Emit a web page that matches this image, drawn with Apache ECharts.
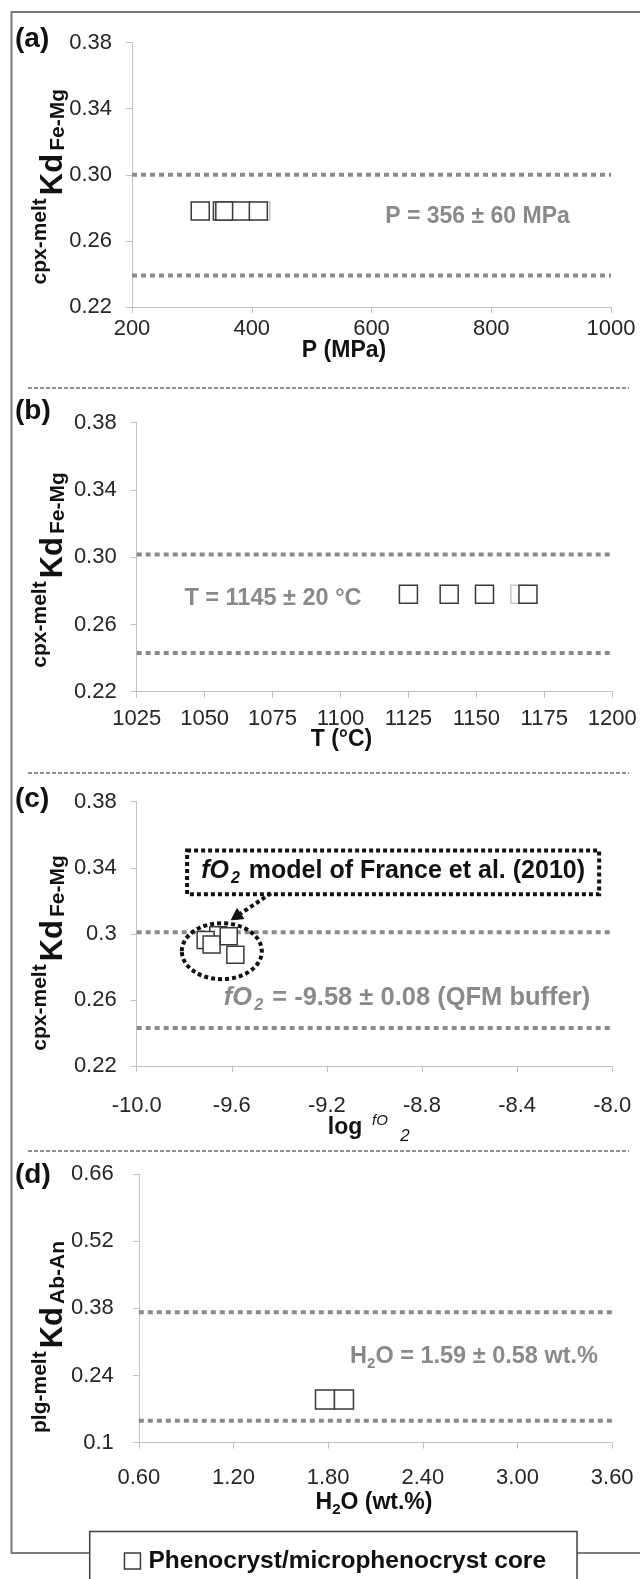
<!DOCTYPE html>
<html>
<head>
<meta charset="utf-8">
<title>Kd equilibrium tests</title>
<script src="https://cdn.jsdelivr.net/npm/echarts@6.0.0/dist/echarts.min.js"></script>
<style>
  html, body { margin: 0; padding: 0; background: #fff; }
  #chart { width: 640px; height: 1579px; }
</style>
</head>
<body>
<div id="chart"></div>
<script>
// ---------------- data ----------------
// (a) cpx-melt Kd(Fe-Mg) against pressure (MPa)
const pressureTicks = ['200', '400', '600', '800', '1000'];
const pressureCores = [314, 351, 355, 383, 411];
const pressureCoresKd = [0.278, 0.278, 0.278, 0.278, 0.278];
const pressureFaint = [415];
const pressureFaintKd = [0.278];
const pressureKdRange = [0.300, 0.239];

// (b) cpx-melt Kd(Fe-Mg) against temperature (°C)
const tempTicks = ['1025', '1050', '1075', '1100', '1125', '1150', '1175', '1200'];
const tempCores = [1125, 1140, 1153, 1169];
const tempCoresKd = [0.278, 0.278, 0.278, 0.278];
const tempFaint = [1166];
const tempFaintKd = [0.278];
const tempKdRange = [0.3016, 0.243];

// (c) cpx-melt Kd(Fe-Mg) against log fO2
const fo2Ticks = ['-10.0', '-9.6', '-9.2', '-8.8', '-8.4', '-8.0'];
const fo2Cores = [-9.657, -9.710, -9.685, -9.613, -9.585];
const fo2CoresKd = [0.2991, 0.2963, 0.2935, 0.2986, 0.2874];
const fo2KdRange = [0.301, 0.243];

// (d) plg-melt Kd(Ab-An) against H2O (wt.%)
const waterTicks = ['0.60', '1.20', '1.80', '2.40', '3.00', '3.60'];
const waterCores = [1.78, 1.90];
const waterCoresKd = [0.190, 0.190];
const waterKdRange = [0.372, 0.146];

// y tick labels
const cpxKdTicks = ['0.22', '0.26', '0.30', '0.34', '0.38'];
const cpxKdTicksC = ['0.22', '0.26', '0.3', '0.34', '0.38'];
const plgKdTicks = ['0.1', '0.24', '0.38', '0.52', '0.66'];

const CORE = 'Phenocryst/microphenocryst core';

// ---------------- styling ----------------
const FONT = '"Liberation Sans", Arial, Helvetica, sans-serif';
const AXIS_GREY = '#c2c2c2';
const BAND_GREY = '#8a8a8a';
const NOTE_GREY = '#8a8a8a';
const INK = '#111111';

// plot rectangles and label gaps of the four stacked panels
const layout = [
  { left: 132,   top: 42.5,  width: 479,   height: 264.5, xGap: 11, yGap: 20 },
  { left: 136.7, top: 422.7, width: 475.5, height: 269,   xGap: 16, yGap: 20 },
  { left: 136.7, top: 801.7, width: 475.5, height: 264.3, xGap: 29, yGap: 20 },
  { left: 138.8, top: 1174,  width: 473.4, height: 268.7, xGap: 24, yGap: 25 }
];

function labelFor(ticks, v) {
  let best = ticks[0], d = Infinity;
  ticks.forEach(t => { const e = Math.abs(parseFloat(t) - v); if (e < d) { d = e; best = t; } });
  return best;
}

function valueAxis(i, ticks, margin) {
  const vals = ticks.map(Number);
  return {
    type: 'value', gridIndex: i,
    min: Math.min(...vals), max: Math.max(...vals),
    axisLine: { show: true, onZero: false, lineStyle: { color: AXIS_GREY, width: 1 } },
    axisTick: { show: true, length: 6, inside: false, lineStyle: { color: AXIS_GREY, width: 1 }, customValues: vals },
    axisLabel: {
      customValues: vals, margin: margin,
      formatter: v => labelFor(ticks, v),
      color: '#262626', fontSize: 22, fontFamily: FONT
    },
    splitLine: { show: false }
  };
}

function zip(xs, ys) { return xs.map((x, k) => [x, ys[k]]); }

function coreSeries(i, xs, ys, size) {
  return {
    type: 'scatter', name: CORE, xAxisIndex: i, yAxisIndex: i,
    data: zip(xs, ys), symbol: 'rect', symbolSize: size,
    itemStyle: { color: '#ffffff', borderColor: '#3a3a3a', borderWidth: 1.5, opacity: 1 },
    z: 6, silent: true, animation: false
  };
}

function faintSeries(i, xs, ys, size) {
  return {
    type: 'scatter', name: 'faint core', xAxisIndex: i, yAxisIndex: i,
    data: zip(xs, ys), symbol: 'rect', symbolSize: size,
    itemStyle: { color: '#ffffff', borderColor: '#c6c6c6', borderWidth: 1.5, opacity: 1 },
    z: 5, silent: true, animation: false
  };
}

function bandSeries(i, y, ticks) {
  const vals = ticks.map(Number);
  return {
    type: 'line', name: 'range', xAxisIndex: i, yAxisIndex: i,
    data: [[Math.min(...vals), y], [Math.max(...vals), y]],
    symbol: 'none', silent: true, animation: false,
    lineStyle: { color: BAND_GREY, width: 4, type: [5, 4], cap: 'butt' },
    z: 3
  };
}

const xTickSets = [pressureTicks, tempTicks, fo2Ticks, waterTicks];
const yTickSets = [cpxKdTicks, cpxKdTicks, cpxKdTicksC, plgKdTicks];

const series = [
  bandSeries(0, pressureKdRange[0], pressureTicks),
  bandSeries(0, pressureKdRange[1], pressureTicks),
  faintSeries(0, pressureFaint, pressureFaintKd, 18),
  coreSeries(0, pressureCores, pressureCoresKd, 18),

  bandSeries(1, tempKdRange[0], tempTicks),
  bandSeries(1, tempKdRange[1], tempTicks),
  faintSeries(1, tempFaint, tempFaintKd, 18),
  coreSeries(1, tempCores, tempCoresKd, 18),

  bandSeries(2, fo2KdRange[0], fo2Ticks),
  bandSeries(2, fo2KdRange[1], fo2Ticks),
  coreSeries(2, fo2Cores, fo2CoresKd, 17),

  bandSeries(3, waterKdRange[0], waterTicks),
  bandSeries(3, waterKdRange[1], waterTicks),
  coreSeries(3, waterCores, waterCoresKd, 19)
];

const chart = echarts.init(document.getElementById('chart'), null, { renderer: 'canvas' });

chart.setOption({
  animation: false,
  backgroundColor: '#ffffff',
  grid: layout.map(g => ({ left: g.left, top: g.top, width: g.width, height: g.height, containLabel: false, outerBoundsMode: 'none' })),
  xAxis: xTickSets.map((t, i) => valueAxis(i, t, layout[i].xGap)),
  yAxis: yTickSets.map((t, i) => valueAxis(i, t, layout[i].yGap)),
  legend: {
    data: [{ name: CORE, icon: 'rect', itemStyle: { color: '#ffffff', borderColor: '#3a3a3a', borderWidth: 1.5 } }],
    left: 89.7, top: 1531.5, orient: 'horizontal',
    itemWidth: 16, itemHeight: 16,
    padding: [17, 31, 40, 34],
    borderColor: '#3f3f3f', borderWidth: 1.5, backgroundColor: '#ffffff',
    textStyle: { fontSize: 24.5, fontWeight: 'bold', fontFamily: FONT, color: INK, padding: [0, 0, 0, 3] },
    selectedMode: false, z: 20
  },
  series: series
});

// ---------------- text and annotation helpers ----------------
const tok = (font, fill, padBottom, padSide) => ({
  font: font, fill: fill, verticalAlign: 'bottom',
  padding: [0, padSide || 0, padBottom || 0, padSide || 0]
});

function plainText(x, y, text, font, fill, align) {
  return {
    type: 'text', x: x, y: y, z: 30, silent: true,
    style: { text: text, font: font, fill: fill, align: align || 'center', verticalAlign: 'middle',
             textAlign: align || 'center', textVerticalAlign: 'middle' }
  };
}

function richText(x, y, text, rich) {
  return {
    type: 'text', x: x, y: y, z: 30, silent: true,
    style: { text: text, rich: rich, align: 'center', verticalAlign: 'middle',
             textAlign: 'center', textVerticalAlign: 'middle' }
  };
}

// rotated y-axis title: superscript phase pair, Kd, subscript component pair
function yTitle(i, sup, sub, startOffset) {
  const p = layout[i];
  return {
    type: 'text', x: 69, y: p.top + startOffset, rotation: Math.PI / 2, z: 30, silent: true,
    style: {
      text: '{a|' + sup + '}{b|Kd}{c|' + sub + '}',
      align: 'left', verticalAlign: 'bottom', textAlign: 'left', textVerticalAlign: 'bottom',
      rich: {
        a: tok('bold 21px ' + FONT, INK, 18),
        b: tok('bold 31px ' + FONT, INK, 0, 3),
        c: tok('bold 21px ' + FONT, INK, 0)
      }
    }
  };
}

const boldN = 'bold 23px ' + FONT;
const boldSub = 'bold 15px ' + FONT;

const graphics = [];

// outer frame of the figure
graphics.push({
  type: 'polyline', z: 1, silent: true,
  shape: { points: [[640, 12], [11.5, 12], [11.5, 1553], [640, 1553]] },
  style: { stroke: '#7d7d7d', lineWidth: 2, fill: null }
});

// dashed separators between panels
[388, 773, 1151].forEach(y => graphics.push({
  type: 'line', z: 1, silent: true,
  shape: { x1: 28, y1: y, x2: 629, y2: y },
  style: { stroke: '#222222', lineWidth: 1, lineDash: [4, 2] }
}));

// panel letters
[['(a)', 39], ['(b)', 411], ['(c)', 799], ['(d)', 1175]].forEach(([t, y]) =>
  graphics.push(plainText(15, y, t, 'bold 28px ' + FONT, INK, 'left')));

// y-axis titles
graphics.push(yTitle(0, 'cpx-melt', 'Fe-Mg', 242));
graphics.push(yTitle(1, 'cpx-melt', 'Fe-Mg', 245));
graphics.push(yTitle(2, 'cpx-melt', 'Fe-Mg', 249));
graphics.push(yTitle(3, 'plg-melt', 'Ab-An', 259));

// x-axis titles
graphics.push(plainText(344, 351, 'P (MPa)', boldN, INK));
graphics.push(plainText(341.5, 740, 'T (°C)', boldN, INK));
graphics.push(plainText(345, 1128, 'log', boldN, INK));
graphics.push(plainText(380, 1121, 'fO', 'italic 15px ' + FONT, INK));
graphics.push(plainText(405, 1136, '2', 'italic 17px ' + FONT, INK));
graphics.push(richText(374, 1504, '{n|H}{s|2}{n|O (wt.%)}', { n: tok(boldN, INK, 3), s: tok(boldSub, INK, 0) }));

// grey result notes
graphics.push(plainText(477.5, 217, 'P = 356 ± 60 MPa', boldN, NOTE_GREY));
graphics.push(plainText(273, 599, 'T = 1145 ± 20 °C', 'bold 23.5px ' + FONT, NOTE_GREY));
graphics.push(richText(407, 999.5, '{i|fO}{s|2}{n| = -9.58 ± 0.08 (QFM buffer)}', {
  i: tok('italic bold 25.5px ' + FONT, NOTE_GREY, 3),
  s: tok('italic bold 16px ' + FONT, NOTE_GREY, 0, 2),
  n: tok('bold 25.5px ' + FONT, NOTE_GREY, 3)
}));
graphics.push(richText(474, 1358, '{n|H}{s|2}{n|O = 1.59 ± 0.58 wt.%}', {
  n: tok('bold 23.5px ' + FONT, NOTE_GREY, 3), s: tok(boldSub, NOTE_GREY, 0)
}));

// (c) callout: dotted box, dotted arrow and dotted ellipse, placed in data space
const toPx = (x, y) => chart.convertToPixel({ gridIndex: 2 }, [x, y]);
const boxA = toPx(-9.788, 0.3505), boxB = toPx(-8.055, 0.3240);
const ring = toPx(-9.642, 0.2895);
const arrowFrom = toPx(-9.435, 0.3246), arrowTo = toPx(-9.602, 0.3085);
const DOT = { stroke: INK, lineWidth: 4, lineDash: [4, 3] };

graphics.push({
  type: 'rect', z: 25, silent: true,
  shape: { x: boxA[0], y: boxA[1], width: boxB[0] - boxA[0], height: boxB[1] - boxA[1] },
  style: Object.assign({ fill: '#ffffff' }, DOT)
});
graphics.push(richText((boxA[0] + boxB[0]) / 2, (boxA[1] + boxB[1]) / 2,
  '{i|fO}{s|2}{n| model of France et al. (2010)}', {
    i: tok('italic bold 25px ' + FONT, INK, 3),
    s: tok('italic bold 16px ' + FONT, INK, 0, 2),
    n: tok('bold 25px ' + FONT, INK, 3)
  }));
graphics.push({
  type: 'ellipse', z: 25, silent: true,
  shape: { cx: ring[0], cy: ring[1], rx: 40, ry: 28 },
  style: Object.assign({ fill: null }, DOT)
});
const ang = Math.atan2(arrowTo[1] - arrowFrom[1], arrowTo[0] - arrowFrom[0]);
const headLen = 11, headHalf = 6;
const baseX = arrowTo[0] - headLen * Math.cos(ang), baseY = arrowTo[1] - headLen * Math.sin(ang);
graphics.push({
  type: 'line', z: 25, silent: true,
  shape: { x1: arrowFrom[0], y1: arrowFrom[1], x2: baseX, y2: baseY },
  style: Object.assign({}, DOT)
});
graphics.push({
  type: 'polygon', z: 25, silent: true,
  shape: { points: [
    [arrowTo[0], arrowTo[1]],
    [baseX + headHalf * Math.sin(ang), baseY - headHalf * Math.cos(ang)],
    [baseX - headHalf * Math.sin(ang), baseY + headHalf * Math.cos(ang)]
  ] },
  style: { fill: INK, stroke: INK, lineWidth: 1 }
});

chart.setOption({ graphic: { elements: graphics } });
</script>
</body>
</html>
